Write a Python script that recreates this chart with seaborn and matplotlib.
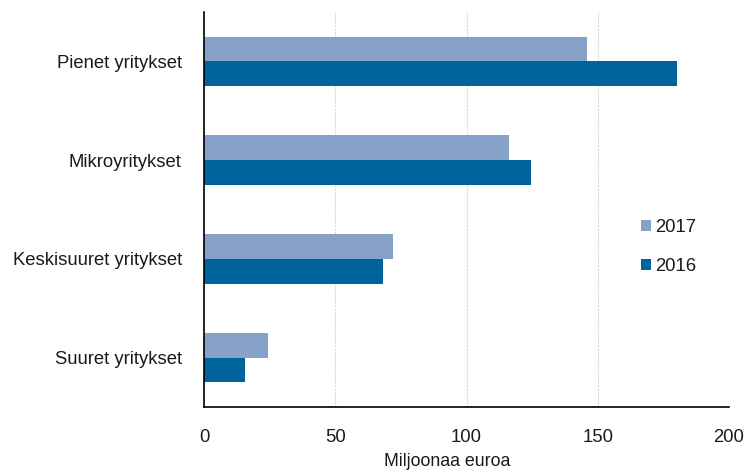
import pandas as pd
import matplotlib
matplotlib.use("Agg")
import matplotlib.pyplot as plt
import seaborn as sns

# data
categories = ["Pienet yritykset", "Mikroyritykset", "Keskisuuret yritykset", "Suuret yritykset"]
values_2017 = [146, 116, 72, 24.5]
values_2016 = [180, 124.5, 68, 15.5]
years = ["2017", "2016"]
colors = {"2017": "#87A2C8", "2016": "#00649C"}

df = pd.DataFrame({
    "kategoria": categories * 2,
    "vuosi": ["2017"] * len(categories) + ["2016"] * len(categories),
    "arvo": values_2017 + values_2016,
})

sns.set_style("white")
plt.rcParams["font.family"] = ["Liberation Sans", "DejaVu Sans"]
plt.rcParams["text.color"] = "#1a1a1a"
plt.rcParams["xtick.color"] = "#1a1a1a"
plt.rcParams["ytick.color"] = "#1a1a1a"

fig = plt.figure(figsize=(7.49, 4.72), dpi=100)
ax = fig.add_axes([0.2724, 0.1377, 0.7009, 0.8369])

sns.barplot(data=df, y="kategoria", x="arvo", hue="vuosi", hue_order=years,
            order=categories, palette=colors, width=0.5, orient="h",
            saturation=1, edgecolor="none", ax=ax)

ax.set_xlim(0, 200)
ax.set_xticks([0, 50, 100, 150, 200])
ax.set_ylim(3.5, -0.5)
ax.grid(axis="x", color="#d8d8d8", linestyle=(0, (2, 1)), linewidth=0.8)
ax.set_axisbelow(True)
for s in ["top", "right"]:
    ax.spines[s].set_visible(False)
for s in ["left", "bottom"]:
    ax.spines[s].set_color("black")
    ax.spines[s].set_linewidth(1.2)

ax.set_ylabel("")
ax.set_xlabel("Miljoonaa euroa", fontsize=12.8, color="#1a1a1a")
# label sits a bit left of the axis centre in the original
ax.xaxis.set_label_coords(0.464, -0.117)
ax.tick_params(axis="x", labelsize=13.3, pad=16, length=0)
ax.tick_params(axis="y", labelsize=13.3, pad=16, length=0)

ax.legend(title=None, frameon=False, fontsize=13.3, loc="center left",
          bbox_to_anchor=(0.8, 0.405), handlelength=0.55, handleheight=0.55,
          handletextpad=0.25, labelspacing=1.15)

fig.savefig("out.png", dpi=100)
